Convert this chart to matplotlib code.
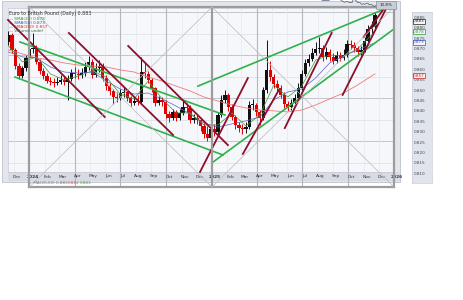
import numpy as np
import pandas as pd
import matplotlib
matplotlib.use('Agg')
import matplotlib.pyplot as plt
import matplotlib.dates as mdates
from matplotlib.patches import Rectangle
from matplotlib.transforms import blended_transform_factory

# weekly candles, first week starts 2023-11-20
week_start = '2023-11-20'
first_open = 0.8690
closes = [0.8725, 0.8654, 0.8578, 0.8530, 0.8568, 0.8616, 0.8659, 0.8663, 0.8597, 0.8554,
          0.8530, 0.8506, 0.8501, 0.8497, 0.8501, 0.8511, 0.8501, 0.8516, 0.8544, 0.8540,
          0.8535, 0.8544, 0.8573, 0.8597, 0.8535, 0.8568, 0.8578, 0.8521, 0.8482, 0.8459,
          0.8430, 0.8425, 0.8449, 0.8454, 0.8425, 0.8401, 0.8411, 0.8406, 0.8549, 0.8540,
          0.8511, 0.8473, 0.8401, 0.8416, 0.8406, 0.8349, 0.8330, 0.8359, 0.8330, 0.8354,
          0.8382, 0.8378, 0.8320, 0.8330, 0.8320, 0.8292, 0.8254, 0.8235, 0.8278, 0.8263,
          0.8344, 0.8416, 0.8440, 0.8382, 0.8335, 0.8297, 0.8282, 0.8278, 0.8287, 0.8392,
          0.8392, 0.8359, 0.8330, 0.8463, 0.8559, 0.8525, 0.8492, 0.8473, 0.8440, 0.8397,
          0.8382, 0.8401, 0.8425, 0.8473, 0.8540, 0.8592, 0.8611, 0.8640, 0.8659, 0.8663,
          0.8620, 0.8644, 0.8620, 0.8601, 0.8630, 0.8616, 0.8630, 0.8682, 0.8678, 0.8663,
          0.8644, 0.8654, 0.8697, 0.8754, 0.8763, 0.8820]
highs = [0.8745, 0.8735, 0.8665, 0.8590, 0.8580, 0.8630, 0.8675, 0.8735, 0.8680, 0.8610,
         0.8570, 0.8545, 0.8525, 0.8520, 0.8525, 0.8535, 0.8530, 0.8535, 0.8565, 0.8575,
         0.8565, 0.8570, 0.8595, 0.8625, 0.8610, 0.8590, 0.8605, 0.8590, 0.8535, 0.8495,
         0.8470, 0.8455, 0.8470, 0.8480, 0.8465, 0.8435, 0.8430, 0.8440, 0.8620, 0.8590,
         0.8555, 0.8520, 0.8480, 0.8435, 0.8430, 0.8415, 0.8365, 0.8375, 0.8370, 0.8375,
         0.8410, 0.8400, 0.8390, 0.8350, 0.8345, 0.8330, 0.8305, 0.8290, 0.8295, 0.8300,
         0.8360, 0.8440, 0.8465, 0.8450, 0.8395, 0.8345, 0.8310, 0.8300, 0.8310, 0.8410,
         0.8420, 0.8400, 0.8370, 0.8480, 0.8700, 0.8600, 0.8540, 0.8510, 0.8485, 0.8455,
         0.8410, 0.8420, 0.8445, 0.8495, 0.8560, 0.8610, 0.8635, 0.8665, 0.8690, 0.8716,
         0.8680, 0.8670, 0.8660, 0.8640, 0.8650, 0.8645, 0.8660, 0.8700, 0.8700, 0.8690,
         0.8675, 0.8675, 0.8715, 0.8775, 0.8790, 0.8835]
lows = [0.8680, 0.8640, 0.8565, 0.8515, 0.8520, 0.8555, 0.8605, 0.8640, 0.8585, 0.8540,
        0.8515, 0.8495, 0.8485, 0.8480, 0.8485, 0.8490, 0.8488, 0.8416, 0.8505, 0.8520,
        0.8515, 0.8520, 0.8530, 0.8560, 0.8520, 0.8525, 0.8550, 0.8505, 0.8465, 0.8440,
        0.8395, 0.8405, 0.8415, 0.8430, 0.8410, 0.8385, 0.8390, 0.8390, 0.8400, 0.8520,
        0.8495, 0.8455, 0.8385, 0.8390, 0.8385, 0.8330, 0.8310, 0.8320, 0.8315, 0.8320,
        0.8345, 0.8360, 0.8305, 0.8305, 0.8300, 0.8270, 0.8235, 0.8222, 0.8228, 0.8245,
        0.8255, 0.8335, 0.8400, 0.8365, 0.8320, 0.8280, 0.8265, 0.8255, 0.8260, 0.8280,
        0.8370, 0.8340, 0.8297, 0.8320, 0.8450, 0.8505, 0.8475, 0.8455, 0.8425, 0.8380,
        0.8365, 0.8370, 0.8390, 0.8415, 0.8465, 0.8530, 0.8580, 0.8600, 0.8630, 0.8640,
        0.8600, 0.8610, 0.8600, 0.8585, 0.8590, 0.8600, 0.8605, 0.8620, 0.8660, 0.8645,
        0.8625, 0.8630, 0.8645, 0.8690, 0.8735, 0.8750]

# moving averages, read every 4th week (plus the last one)
ma_weeks = list(range(0, 105, 4)) + [105]
sma20 = [0.8673, 0.8597, 0.8621, 0.8540, 0.8511, 0.8530, 0.8554, 0.8525, 0.8444, 0.8421,
         0.8506, 0.8421, 0.8354, 0.8354, 0.8297, 0.8297, 0.8354, 0.8292, 0.8344, 0.8487,
         0.8430, 0.8482, 0.8606, 0.8630, 0.8625, 0.8659, 0.8725, 0.8749]
sma50 = [0.8644, 0.8621, 0.8616, 0.8573, 0.8549, 0.8544, 0.8549, 0.8506, 0.8468, 0.8444,
         0.8449, 0.8421, 0.8387, 0.8349, 0.8306, 0.8287, 0.8302, 0.8316, 0.8335, 0.8416,
         0.8454, 0.8468, 0.8521, 0.8592, 0.8625, 0.8654, 0.8682, 0.8687]
sma200 = [0.8654, 0.8635, 0.8616, 0.8606, 0.8592, 0.8582, 0.8578, 0.8573, 0.8559, 0.8549,
          0.8525, 0.8506, 0.8482, 0.8459, 0.8430, 0.8411, 0.8392, 0.8378, 0.8368, 0.8364,
          0.8359, 0.8368, 0.8392, 0.8421, 0.8449, 0.8487, 0.8530, 0.8540]

# hand drawn trend lines: (start date, start price, end date, end price)
red_lines = [('2023-11-19', 0.8797, '2024-05-31', 0.8335),
             ('2024-03-20', 0.8735, '2024-10-15', 0.8249),
             ('2024-07-17', 0.8673, '2025-02-02', 0.8201),
             ('2024-12-08', 0.8073, '2025-03-14', 0.8520),
             ('2025-03-04', 0.8159, '2025-05-15', 0.8463),
             ('2025-05-27', 0.8282, '2025-08-29', 0.8735),
             ('2025-09-20', 0.8440, '2025-12-22', 0.8878),
             ('2025-11-01', 0.8715, '2025-12-20', 0.8878)]
green_lines = [('2023-12-13', 0.8692, '2025-01-27', 0.8344),
               ('2023-12-03', 0.8525, '2025-01-23', 0.8154),
               ('2024-12-04', 0.8482, '2025-12-08', 0.8844),
               ('2025-01-03', 0.8120, '2026-01-01', 0.8754)]

title = 'Euro to British Pound (Daily) 0.883'
legend_rows = [('— SMA(20) 0.878', '#2f8f2f'), ('— SMA(50) 0.873', '#3c46b0'),
               ('— SMA(200) 0.857', '#d03030'), ('— Volume undef', '#3a6a3a')]
axis_boxes = [(0.883, '#222222'), (0.878, '#2f9a2f'), (0.873, '#4050c0'), (0.857, '#d02020')]

W, H = 464, 300
fig = plt.figure(figsize=(W / 100, H / 100), dpi=100)


def fx(px):
    return px / W


def fy(py):
    return 1 - py / H


def box(x0, y0, x1, y1):
    return [fx(x0), fy(y1), fx(x1) - fx(x0), fy(y0) - fy(y1)]


# chart panel and date band
fig.add_artist(Rectangle((fx(2), fy(182)), fx(400) - fx(2), fy(1) - fy(182), transform=fig.transFigure,
                         facecolor='#e3e6ed', edgecolor='#bcc1cc', lw=0.6, zorder=-2))
fig.add_artist(Rectangle((fx(8), fy(181)), fx(400) - fx(8), fy(172) - fy(181), transform=fig.transFigure,
                         facecolor='#d8dbe3', edgecolor='none', zorder=-1))

ax = fig.add_axes(box(8, 8, 393, 172))
ax.set_facecolor('#f6f7fb')
for s in ax.spines.values():
    s.set_color('#c5c9d2')
    s.set_linewidth(0.5)
ax.set_xticks([])
ax.set_yticks([])
trans = blended_transform_factory(ax.transData, fig.transFigure)

dates = pd.date_range(week_start, periods=len(closes), freq='7D')
xd = mdates.date2num(dates)
opens = [first_open] + closes[:-1]

# horizontal grid
for k, g in enumerate(np.linspace(0.8116, 0.8835, 8)):
    ax.axhline(g, color='#b9bdc6' if k % 2 == 1 else '#dfe2e9', lw=0.6, zorder=0)

# month / quarter / year lines
months = pd.date_range('2023-12-01', '2026-01-01', freq='MS')
for m in months:
    mx = mdates.date2num(m)
    if m.month == 1:
        ax.plot([mx, mx], [fy(7), fy(187)], transform=trans, color='#9c9c9c', lw=1.6, clip_on=False, zorder=6)
    elif m.month in (4, 7, 10):
        ax.plot([mx, mx], [fy(8), fy(187)], transform=trans, color='#b3b6bd', lw=0.8, clip_on=False, zorder=1)
    else:
        ax.axvline(mx, color='#e3e5ec', lw=0.4, zorder=0)
    lab = str(m.year) if m.month == 1 else m.strftime('%b')
    ax.text(mdates.date2num(m + pd.Timedelta(days=6)), fy(176.5), lab, transform=trans, fontsize=3.2,
            ha='center', va='center', color='#333333', fontweight='bold' if m.month == 1 else 'normal',
            clip_on=False)

# year boxes with their crossing diagonals
y_edges = [mdates.date2num(pd.Timestamp(f'{y}-01-01')) for y in (2024, 2025, 2026)]
for yv in (fy(7), fy(187)):
    ax.plot([y_edges[0], y_edges[2]], [yv, yv], transform=trans, color='#9c9c9c', lw=1.6, clip_on=False, zorder=6)
for a, b in zip(y_edges[:-1], y_edges[1:]):
    ax.plot([a, b], [fy(7), fy(187)], transform=trans, color='#bbbbbb', lw=0.5, clip_on=False, zorder=6)
    ax.plot([a, b], [fy(187), fy(7)], transform=trans, color='#bbbbbb', lw=0.5, clip_on=False, zorder=6)

# candles
cols = ['#111111' if c >= o else '#e00000' for o, c in zip(opens, closes)]
ax.vlines(xd, lows, highs, colors=cols, lw=0.7, zorder=3)
body_lo = [min(o, c) for o, c in zip(opens, closes)]
body_h = [max(abs(c - o), 0.0006) for o, c in zip(opens, closes)]
ax.bar(xd, body_h, bottom=body_lo, width=6.5, color=cols, lw=0, zorder=3)

# moving averages
mx_d = xd[ma_weeks]
ax.plot(mx_d, sma200, color='#f07878', lw=0.6, zorder=4)
ax.plot(mx_d, sma50, color='#5a60c8', lw=0.5, zorder=4)
ax.plot(mx_d, sma20, color='#3a9a3a', lw=0.5, zorder=4)

# trend lines
for d0, p0, d1, p1 in green_lines:
    ax.plot(pd.to_datetime([d0, d1]), [p0, p1], color='#2fb14c', lw=1.2, clip_on=False, zorder=5)
for d0, p0, d1, p1 in red_lines:
    ax.plot(pd.to_datetime([d0, d1]), [p0, p1], color='#8c0f2a', lw=1.3, clip_on=False, zorder=5)

ax.set_xlim(pd.Timestamp('2023-11-19'), pd.Timestamp('2025-12-30'))
ax.set_ylim(0.80729, 0.88538)

# title and legend text
fig.text(fx(9), fy(14), title, fontsize=3.4, color='#333333', va='center')
for k, (txt, c) in enumerate(legend_rows):
    fig.text(fx(9), fy(18.5 + 4 * k), txt, fontsize=3.0, color=c, va='center')
fig.text(fx(28), fy(183), '— MA(20,50) 0.883', fontsize=3.0, color='#777777', va='center')
fig.text(fx(68), fy(183), '0.882', fontsize=3.0, color='#e05050', va='center')
fig.text(fx(80), fy(183), '0.883', fontsize=3.0, color='#50a050', va='center')

# mini navigator at the top
nav = fig.add_axes(box(310, -4, 377, 7))
nav.plot(xd[:60], closes[:60], color='#4b5878', lw=0.5)
nav.set_xlim(xd[0], xd[59])
nav.set_ylim(0.821, 0.870)
nav.axis('off')
fig.add_artist(Rectangle((fx(376), fy(9)), fx(20), fy(1) - fy(9), transform=fig.transFigure,
                         facecolor='#c9cdd8', edgecolor='#8890a0', lw=0.5))
fig.text(fx(386), fy(5), '10.8%', fontsize=3.0, color='#222233', ha='center', va='center')

# separate price axis strip
ax2 = fig.add_axes(box(412, 12, 432, 183))
ax2.set_facecolor('#e0e4ed')
for s in ax2.spines.values():
    s.set_color('#c8ccd6')
    s.set_linewidth(0.5)
ax2.set_ylim(0.80534, 0.88755)
ax2.set_xticks([])
ticks = np.arange(0.810, 0.8851, 0.005)
ax2.set_yticks(ticks)
ax2.set_yticklabels([f'{t:.3f}' for t in ticks])
ax2.tick_params(axis='y', length=0, pad=-1.2, labelsize=3.0, labelcolor='#444444')
for lab in ax2.get_yticklabels():
    lab.set_horizontalalignment('left')
btrans = blended_transform_factory(ax2.transAxes, ax2.transData)
for v, c in axis_boxes:
    ax2.text(0.06, v, f'{v:.3f}', transform=btrans, fontsize=3.0, color=c, va='center', ha='left',
             bbox=dict(boxstyle='square,pad=0.12', fc='#f4f5f8', ec=c, lw=0.5), zorder=5)

fig.savefig('out.png', dpi=100)
